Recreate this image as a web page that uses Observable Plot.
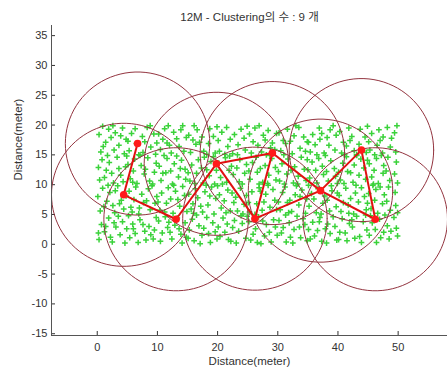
<!DOCTYPE html>
<html>
<head>
<meta charset="utf-8">
<script src="https://cdn.jsdelivr.net/npm/d3@7"></script>
<script src="https://cdn.jsdelivr.net/npm/@observablehq/plot@0.6"></script>
<style>
  body { margin: 0; background: #fff; }
  #chart svg { font-family: "Liberation Sans", Arial, "Noto Sans CJK KR", sans-serif; }
</style>
</head>
<body>
<div id="chart"></div>
<script>
const title = "12M - Clustering의 수 : 9 개";
const xLabel = "Distance(meter)";
const yLabel = "Distance(meter)";
const xDomain = [-7.6, 58.2];
const yDomain = [-15.3, 36.7];
const xTicks = [0, 10, 20, 30, 40, 50];
const yTicks = [-15, -10, -5, 0, 5, 10, 15, 20, 25, 30, 35];
const radius = 12;

// cluster heads (red)
const headX = [6.7, 4.4, 13.1, 19.8, 26.2, 29.1, 37.1, 43.9, 46.2];
const headY = [16.9, 8.3, 4.2, 13.5, 4.3, 15.3, 9.0, 15.8, 4.2];
// links between heads (index pairs)
const edgeFrom = [0, 1, 2, 3, 3, 4, 4, 5, 6, 6, 7];
const edgeTo   = [1, 2, 3, 4, 5, 5, 6, 6, 7, 8, 8];

// sensor nodes (green)
const nodes = [
[0.3,0.8],[1.2,2.1],[2.5,0.4],[3.8,1.6],[4.6,0.2],[0.7,3.3],[1.9,4.4],[3.1,2.9],[4.2,3.8],[2.2,1.2],[0.2,1.9],[4.9,2.6],[3.5,4.7],[1.4,3.0],[2.8,3.6],
[5.4,1.1],[6.8,0.3],[7.9,2.2],[9.3,0.9],[5.9,3.4],[7.1,4.1],[8.6,3.0],[9.8,4.5],[6.3,1.8],[8.1,0.7],[5.2,4.8],[9.5,2.4],[7.6,3.3],[6.0,2.6],[8.9,1.6],
[10.5,0.5],[11.7,2.8],[12.4,0.9],[13.9,1.7],[14.6,3.6],[10.2,3.9],[11.3,4.6],[12.9,3.2],[14.1,0.2],[13.3,4.4],[10.8,1.9],[12.1,2.0],[14.8,1.2],[11.9,3.7],[13.6,2.6],
[15.3,2.4],[16.1,0.6],[17.4,1.5],[18.8,0.3],[19.6,2.1],[15.8,4.2],[16.9,3.1],[18.2,4.5],[19.2,3.6],[17.7,2.7],[15.1,1.0],[16.5,4.9],[18.5,1.8],[19.9,0.9],[17.1,0.1],
[20.4,1.3],[21.6,3.4],[22.2,0.5],[23.5,2.2],[24.7,1.0],[20.9,4.4],[22.8,4.0],[24.1,3.5],[21.2,2.0],[23.1,0.2],[24.9,4.7],[20.1,2.9],[22.5,2.8],[23.9,4.8],[21.8,0.8],
[25.5,0.7],[26.3,2.6],[27.8,1.4],[28.9,0.4],[29.6,2.9],[25.2,3.8],[26.8,4.6],[28.1,3.3],[29.3,4.1],[27.2,0.1],[25.9,1.7],[28.6,2.0],[27.5,3.9],[29.9,1.5],[26.6,0.3],
[30.6,1.9],[31.4,0.4],[32.7,2.5],[33.8,1.1],[34.5,3.3],[30.2,4.0],[31.9,3.6],[33.2,4.7],[34.9,0.6],[32.1,1.2],[30.9,2.8],[33.6,2.9],[31.3,4.9],[34.2,4.3],[32.5,0.2],
[35.4,0.9],[36.6,2.3],[37.3,0.5],[38.7,1.8],[39.5,3.0],[35.8,3.7],[37.0,4.5],[38.3,3.4],[39.8,0.7],[36.1,1.4],[35.1,2.5],[37.9,2.6],[39.2,4.6],[36.9,3.8],[38.1,0.2],
[40.3,2.0],[41.5,0.6],[42.4,2.9],[43.6,1.3],[44.8,2.4],[40.7,4.3],[41.9,3.5],[43.1,4.7],[44.2,3.8],[42.8,1.0],[40.1,0.8],[41.2,1.9],[43.9,0.3],[42.3,4.1],[44.6,4.9],
[45.2,1.5],[46.4,0.3],[47.6,2.0],[48.5,0.9],[49.7,2.7],[45.7,3.6],[46.9,4.2],[48.2,3.1],[49.3,4.5],[47.1,1.1],[45.4,4.8],[49.9,1.4],[48.8,2.2],[46.2,2.5],[47.8,4.9],
[0.5,5.6],[1.6,7.2],[2.9,5.3],[3.7,6.8],[4.8,8.1],[0.9,9.4],[2.1,8.7],[3.4,9.8],[4.4,5.9],[1.1,6.3],[0.1,8.0],[2.6,6.5],[4.0,7.4],[3.0,9.0],[1.8,9.9],
[5.6,6.2],[6.9,5.1],[7.7,7.0],[8.8,5.8],[9.6,6.9],[5.3,8.9],[6.4,9.6],[7.4,8.4],[8.5,9.3],[9.9,8.0],[6.1,7.5],[8.2,7.3],[9.1,9.8],[5.8,5.4],[7.0,6.1],
[10.4,5.7],[11.5,6.9],[12.6,5.2],[13.7,6.4],[14.5,8.2],[10.7,8.6],[11.8,9.5],[13.0,8.9],[14.2,9.7],[12.2,7.6],[10.1,7.1],[14.9,5.5],[13.4,7.5],[11.2,5.4],[12.7,9.9],
[15.6,5.9],[16.7,7.8],[17.5,5.4],[18.4,6.6],[19.4,5.1],[15.2,8.4],[16.3,9.3],[17.9,8.8],[19.0,9.6],[19.7,7.7],[15.9,6.8],[17.2,6.4],[18.7,8.1],[16.0,5.2],[18.1,9.9],
[20.6,6.1],[21.4,5.3],[22.7,7.0],[23.3,5.6],[24.4,6.7],[20.3,8.3],[21.7,9.1],[22.4,8.6],[23.8,9.4],[24.8,8.2],[21.1,7.3],[23.0,7.9],[20.0,9.8],[24.2,5.1],[22.1,5.6],
[25.3,5.4],[26.5,6.8],[27.4,5.7],[28.7,6.2],[29.5,7.4],[25.7,8.8],[26.9,9.5],[28.0,8.4],[29.2,9.2],[27.7,7.1],[25.1,7.0],[26.2,5.0],[29.8,5.8],[28.4,9.9],[27.1,8.9],
[30.4,5.8],[31.6,7.0],[32.3,5.5],[33.5,6.6],[34.6,5.2],[30.8,8.7],[31.2,9.6],[32.9,8.3],[34.0,9.1],[34.8,7.6],[30.1,7.1],[32.0,7.4],[33.7,8.0],[31.8,5.3],[33.1,9.8],
[35.2,6.4],[36.4,5.3],[37.5,6.9],[38.6,5.6],[39.7,6.3],[35.6,8.5],[36.7,9.3],[37.8,8.1],[39.0,9.0],[39.9,8.6],[36.0,7.6],[38.2,7.4],[35.1,9.9],[37.2,5.1],[38.9,9.8],
[40.5,5.5],[41.7,6.6],[42.6,5.1],[43.4,7.1],[44.7,5.8],[40.2,8.2],[41.3,9.4],[42.9,8.6],[43.9,9.5],[44.4,8.0],[40.9,7.0],[42.1,7.7],[44.9,6.9],[41.8,5.2],[43.0,9.9],
[45.5,6.0],[46.6,5.2],[47.4,6.8],[48.7,5.7],[49.6,6.5],[45.1,8.5],[46.3,9.2],[47.7,8.3],[48.4,9.6],[49.5,8.7],[46.1,7.4],[48.1,7.2],[49.9,5.3],[45.8,9.9],[47.0,9.6],
[0.4,10.8],[1.5,12.4],[2.7,10.3],[3.9,11.6],[4.7,13.0],[0.8,14.2],[2.0,13.7],[3.3,14.6],[4.3,10.5],[1.2,11.2],[0.2,12.9],[2.4,11.9],[3.6,12.7],[4.9,14.8],[1.7,14.9],
[5.5,11.0],[6.6,10.2],[7.8,11.8],[8.7,10.6],[9.5,12.1],[5.1,13.4],[6.2,14.3],[7.3,13.2],[8.4,14.5],[9.8,13.6],[6.0,12.3],[8.0,12.6],[9.2,10.1],[5.9,10.4],[7.1,14.9],
[10.6,10.7],[11.4,12.0],[12.5,10.1],[13.5,11.3],[14.7,10.9],[10.3,13.1],[11.6,14.4],[12.8,13.5],[14.0,14.1],[14.6,12.6],[10.9,11.9],[12.2,12.3],[13.8,12.7],[11.1,14.9],[13.2,14.8],
[15.4,10.6],[16.5,11.9],[17.6,10.3],[18.6,11.5],[19.5,10.1],[15.7,13.3],[16.8,14.2],[17.3,12.8],[18.9,13.9],[19.8,12.4],[15.1,12.0],[16.2,10.2],[18.2,12.5],[19.3,14.7],[17.8,14.6],
[20.5,11.2],[21.5,10.4],[22.6,11.7],[23.6,10.5],[24.5,11.9],[20.2,13.6],[21.3,14.5],[22.3,13.1],[23.7,14.2],[24.8,13.4],[21.9,12.4],[23.2,12.8],[20.8,10.1],[24.1,10.1],[22.0,14.8],
[25.4,10.9],[26.6,12.1],[27.5,10.4],[28.5,11.6],[29.7,10.8],[25.8,13.7],[26.4,14.6],[27.9,13.2],[29.0,14.4],[29.6,12.9],[25.2,12.3],[27.1,12.7],[28.3,10.2],[26.9,10.1],[28.7,14.9],
[30.3,10.6],[31.5,11.8],[32.6,10.3],[33.4,11.4],[34.7,10.7],[30.7,13.5],[31.7,14.3],[32.8,13.0],[33.9,14.6],[34.4,12.6],[30.1,12.2],[32.2,12.4],[33.3,10.1],[31.1,10.1],[34.9,14.2],
[35.3,11.1],[36.5,10.3],[37.6,11.7],[38.4,10.6],[39.6,11.4],[35.7,13.8],[36.8,14.4],[37.4,13.1],[38.8,14.0],[39.4,12.7],[35.0,12.5],[36.3,12.4],[38.1,12.2],[39.9,10.2],[37.9,14.9],
[40.4,10.8],[41.6,12.2],[42.5,10.4],[43.5,11.6],[44.6,10.9],[40.8,13.6],[41.4,14.7],[42.7,13.3],[43.8,14.3],[44.3,12.8],[40.1,12.1],[42.1,12.0],[44.9,14.1],[41.0,10.2],[43.1,14.9],
[45.6,11.3],[46.7,10.2],[47.5,11.9],[48.6,10.7],[49.4,11.8],[45.2,13.5],[46.4,14.4],[47.6,13.2],[48.3,14.6],[49.7,13.8],[46.0,12.4],[48.0,12.3],[49.9,10.3],[45.9,10.1],[47.2,14.9],
[0.6,15.5],[1.4,17.1],[2.8,15.8],[3.6,16.6],[4.5,15.2],[0.3,18.4],[1.9,19.3],[3.0,18.7],[4.2,19.5],[4.8,17.6],[1.0,16.4],[2.3,17.9],[3.9,18.2],[0.9,19.8],[2.6,19.9],
[5.3,15.7],[6.5,16.9],[7.6,15.4],[8.9,16.3],[9.7,15.1],[5.7,18.6],[6.3,19.4],[7.5,18.1],[8.3,19.6],[9.4,18.5],[5.1,17.3],[7.9,17.2],[9.9,17.0],[6.9,15.0],[8.8,19.9],
[10.5,15.9],[11.6,17.0],[12.3,15.3],[13.6,16.4],[14.4,15.6],[10.2,18.5],[11.2,19.4],[12.7,18.8],[13.9,19.2],[14.8,17.9],[10.9,17.6],[12.0,16.6],[13.2,17.7],[14.2,19.9],[11.8,19.9],
[15.5,15.4],[16.4,16.8],[17.7,15.6],[18.5,16.9],[19.6,15.3],[15.2,18.3],[16.6,19.2],[17.4,18.0],[18.7,19.4],[19.3,18.1],[15.9,17.5],[17.0,17.1],[18.2,15.1],[19.9,19.7],[16.1,19.9],
[20.3,15.6],[21.7,16.4],[22.5,15.2],[23.4,16.7],[24.6,15.8],[20.7,18.8],[21.5,19.6],[22.8,18.4],[23.9,19.3],[24.4,17.8],[20.1,17.4],[22.1,17.6],[23.3,15.0],[24.9,19.8],[21.2,15.1],
[25.6,15.3],[26.7,16.6],[27.3,15.5],[28.8,16.2],[29.5,15.9],[25.3,18.5],[26.2,19.5],[27.6,18.3],[28.4,19.1],[29.8,18.6],[25.9,17.2],[27.9,17.5],[26.9,19.9],[29.1,17.0],[28.1,15.0],
[30.5,15.7],[31.3,16.9],[32.4,15.2],[33.7,16.1],[34.6,15.6],[30.2,18.7],[31.6,19.3],[32.7,18.2],[33.5,19.6],[34.3,18.0],[30.9,17.4],[32.1,17.3],[34.9,17.2],[31.0,15.0],[33.0,19.9],
[35.4,15.5],[36.2,16.7],[37.7,15.3],[38.5,16.6],[39.5,15.8],[35.8,18.4],[36.9,19.5],[37.3,18.6],[38.7,19.2],[39.7,18.3],[35.1,17.1],[37.0,17.6],[38.2,17.9],[36.5,15.0],[39.2,19.9],
[40.6,15.3],[41.4,16.5],[42.7,15.7],[43.5,16.8],[44.7,15.4],[40.3,18.9],[41.8,19.5],[42.3,18.1],[43.7,19.3],[44.5,18.0],[40.9,17.1],[42.0,17.4],[43.1,15.0],[44.9,19.8],[41.1,15.0],
[45.3,15.8],[46.5,16.6],[47.4,15.3],[48.7,16.3],[49.6,15.5],[45.6,18.6],[46.8,19.2],[47.5,18.0],[48.2,19.6],[49.4,18.7],[45.1,17.2],[47.0,17.4],[48.9,17.8],[46.1,15.0],[49.8,19.9]
];

const heads = headX.map((x, i) => ({id: i, x, y: headY[i]}));
const edges = edgeFrom.map((a, i) => ({a: heads[a], b: heads[edgeTo[i]]}));
// circle outlines of the coverage radius around each head
const circlePts = heads.flatMap(h => d3.range(0, 361, 4).map(deg => ({
  id: h.id,
  x: h.x + radius * Math.cos(deg * Math.PI / 180),
  y: h.y + radius * Math.sin(deg * Math.PI / 180)
})));

const axisColor = "#555";
const textColor = "#333";

const chart = Plot.plot({
  width: 447,
  height: 373,
  marginLeft: 51,
  marginRight: 0,
  marginTop: 25,
  marginBottom: 38,
  style: {fontSize: "11px", color: textColor, background: "#fff"},
  x: {domain: xDomain, ticks: xTicks, tickFormat: d => String(d), tickSize: -4, tickPadding: 12, label: null},
  y: {domain: yDomain, ticks: yTicks, tickFormat: d => String(d), tickSize: -4, tickPadding: 8, label: null},
  marks: [
    Plot.dot(nodes, {x: d => d[0], y: d => d[1], symbol: "plus", r: 2.0, stroke: "#3ad23a", strokeWidth: 1.5, fill: "none"}),
    Plot.line(circlePts, {x: "x", y: "y", z: "id", stroke: "#93343f", strokeWidth: 1, clip: true}),
    Plot.link(edges, {x1: d => d.a.x, y1: d => d.a.y, x2: d => d.b.x, y2: d => d.b.y, stroke: "#e01010", strokeWidth: 2}),
    Plot.dot(heads, {x: "x", y: "y", r: 3.8, fill: "#ff1a1a", stroke: "none"}),
    Plot.ruleX([xDomain[0]], {stroke: axisColor}),
    Plot.ruleY([yDomain[0]], {stroke: axisColor}),
    Plot.text([title], {frameAnchor: "top", dy: -13, text: d => d, fontSize: 11.5, fill: textColor}),
    Plot.text([xLabel], {frameAnchor: "bottom", dy: 29, text: d => d, fontSize: 11.5, fill: textColor}),
    Plot.text([yLabel], {frameAnchor: "left", dx: -33, rotate: -90, text: d => d, fontSize: 11.5, fill: textColor})
  ]
});
document.getElementById("chart").appendChild(chart);
</script>
</body>
</html>
